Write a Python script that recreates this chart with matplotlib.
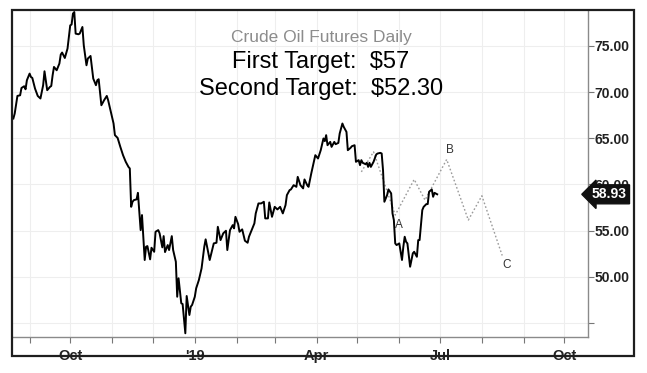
import numpy as np
import matplotlib
matplotlib.use("Agg")
import matplotlib.pyplot as plt
import matplotlib.dates as mdates
from matplotlib.ticker import FuncFormatter, FixedLocator
from matplotlib.patches import Rectangle
from matplotlib.transforms import blended_transform_factory

plt.rcParams["font.family"] = ["Liberation Sans", "DejaVu Sans"]

# ---------------------------------------------------------------------------
# Data: daily crude oil futures close
# day offsets are counted from 1 Oct 2018
# ---------------------------------------------------------------------------
base_date = np.datetime64("2018-10-01")

day_offset = [
    -42, -41, -39, -37, -36, -34, -33, -32, -30, -29,
    -28, -26, -24, -22, -20, -19, -17, -15, -14, -13,
    -12, -10, -8, -7, -6, -4, -2, -1, 0, 1,
    2, 3, 4, 6, 7, 9, 10, 12, 13, 15,
    17, 19, 20, 21, 23, 25, 27, 28, 30, 32,
    33, 35, 37, 39, 41, 43, 44, 45, 46, 47,
    49, 50, 52, 53, 55, 56, 57, 59, 60, 62,
    63, 65, 66, 68, 69, 70, 72, 73, 75, 76,
    78, 79, 80, 82, 83, 85, 86, 88, 89, 90,
    92, 93, 95, 97, 99, 100, 101, 103, 106, 108,
    109, 111, 113, 115, 116, 118, 120, 121, 122, 124,
    125, 127, 129, 131, 132, 134, 136, 137, 139, 141,
    143, 144, 146, 147, 149, 151, 153, 155, 157, 159,
    160, 162, 163, 165, 167, 168, 170, 172, 173, 175,
    176, 178, 181, 183, 185, 187, 188, 189, 190, 192,
    193, 195, 196, 198, 199, 201, 202, 204, 205, 207,
    208, 210, 211, 213, 214, 215, 216, 218, 219, 220,
    221, 222, 224, 226, 227, 229, 230, 231, 232, 234,
    235, 237, 238, 239, 240, 241, 243, 245, 246, 247,
    248, 249, 251, 253, 254, 256, 257, 258, 260, 261,
    263, 264, 265, 267, 268, 269, 271,
]

close = [
    67.14, 67.68, 69.59, 69.66, 70.45, 70.64, 70.31, 71.29, 72.01, 71.64,
    71.54, 70.39, 69.59, 69.31, 70.75, 72.26, 70.21, 70.56, 70.67, 71.83,
    72.73, 72.37, 73.10, 74.07, 74.29, 73.70, 74.72, 75.97, 77.24, 77.32,
    78.51, 78.68, 76.34, 76.27, 76.34, 77.06, 75.08, 72.91, 73.64, 73.92,
    71.47, 70.75, 71.29, 71.40, 68.58, 69.12, 69.59, 69.12, 67.86, 66.60,
    65.34, 65.04, 64.07, 63.17, 62.45, 61.90, 61.73, 57.57, 58.12, 58.30,
    58.38, 59.09, 55.05, 56.68, 51.81, 53.25, 53.32, 51.88, 53.14, 52.70,
    54.87, 55.05, 54.70, 53.18, 54.40, 52.67, 53.43, 52.89, 54.40, 52.89,
    51.62, 47.83, 49.83, 47.12, 47.04, 43.87, 47.91, 45.85, 46.75, 46.94,
    47.83, 48.74, 49.64, 50.91, 53.25, 54.05, 53.32, 51.81, 53.61, 53.68,
    55.41, 53.97, 54.70, 54.98, 52.89, 55.05, 55.59, 55.24, 56.49, 55.70,
    54.87, 55.13, 53.90, 53.68, 54.33, 55.05, 55.78, 56.86, 57.94, 57.94,
    58.12, 56.32, 56.32, 58.05, 56.49, 57.57, 57.29, 57.57, 56.86, 57.76,
    58.84, 59.38, 59.46, 59.92, 59.74, 60.82, 59.92, 59.57, 60.54, 59.92,
    59.74, 61.19, 63.17, 62.81, 63.71, 64.98, 64.69, 65.34, 64.25, 64.61,
    64.07, 64.61, 64.36, 64.50, 65.52, 66.60, 66.23, 65.69, 63.71, 63.96,
    64.14, 64.25, 62.45, 62.63, 62.09, 62.63, 62.34, 62.20, 62.34, 61.90,
    62.34, 61.90, 62.45, 63.25, 63.35, 63.42, 63.35, 61.55, 58.12, 58.84,
    59.46, 59.03, 56.86, 56.14, 53.61, 53.43, 53.61, 51.81, 53.25, 54.33,
    53.79, 53.61, 51.08, 52.53, 52.70, 52.16, 53.97, 53.97, 57.22, 57.57,
    57.87, 57.87, 59.20, 59.46, 58.66, 59.09, 58.93,
]

# projected wave path (dotted) and its labels
proj_day = [215, 224, 240, 254, 262, 278, 294, 304, 319]
proj_price = [61.36, 63.53, 56.68, 60.54, 58.30, 62.71, 56.14, 58.77, 52.30]
wave_labels = ["A", "B", "C"]
wave_index = [2, 5, 8]

title = "Crude Oil Futures Daily"
target_lines = ["First Target:  $57", "Second Target:  $52.30"]
y_ticks = [45, 50, 55, 60, 65, 70, 75]

assert len(day_offset) == len(close)

dates = base_date + np.array(day_offset).astype("timedelta64[D]")
proj_dates = base_date + np.array(proj_day).astype("timedelta64[D]")
last_price = close[-1]

# ---------------------------------------------------------------------------
# Figure (pixel based layout, 647 x 373)
# ---------------------------------------------------------------------------
W, H = 647, 373
fig = plt.figure(figsize=(W / 100, H / 100), dpi=100)
fig.patch.set_facecolor("white")

left, right, top, bottom = 12, 587.5, 10, 336.7
ax = fig.add_axes([left / W, 1 - bottom / H, (right - left) / W, (bottom - top) / H])

ax.plot(dates, close, color="black", lw=1.4, zorder=3)
ax.plot(proj_dates, proj_price, color="#9a9a9a", lw=1.0, ls=(0, (1.2, 1.6)), zorder=2)

for lab, i, off in zip(wave_labels, wave_index, [(2.5, -7), (2.5, 7), (3, -7)]):
    ax.annotate(lab, (proj_dates[i], proj_price[i]), xytext=off,
                textcoords="offset points", ha="center", va="center",
                fontsize=8.5, color="#333333", zorder=4)

ax.set_xlim(base_date - np.timedelta64(43, "D"), base_date + np.timedelta64(382, "D"))
ax.set_ylim(43.5, 78.9)

# x axis: every month gets a tick/grid, quarters get a label
ax.xaxis.set_major_locator(mdates.MonthLocator(bymonth=[1, 4, 7, 10]))
ax.xaxis.set_minor_locator(mdates.MonthLocator())


def month_label(v, pos):
    d = mdates.num2date(v)
    return d.strftime("'%y") if d.month == 1 else d.strftime("%b")


ax.xaxis.set_major_formatter(FuncFormatter(month_label))
ax.tick_params(axis="x", which="both", direction="out", length=4, width=0.8,
               color="#777777", labelsize=10.5, pad=5, labelcolor="#222222")
for t in ax.get_xticklabels():
    t.set_fontweight("bold")

# y axis on the right
ax.yaxis.tick_right()
ax.yaxis.set_major_locator(FixedLocator(y_ticks))
ax.yaxis.set_major_formatter(FuncFormatter(lambda v, p: "" if v < 50 else f"{v:.2f}"))
ax.tick_params(axis="y", direction="out", length=4, width=0.8, color="#777777",
               labelsize=10, pad=1, labelcolor="#222222")
for t in ax.get_yticklabels():
    t.set_fontweight("bold")

ax.grid(True, which="both", axis="x", color="#eeeeee", lw=0.8)
ax.grid(True, which="major", axis="y", color="#eeeeee", lw=0.8)
ax.set_axisbelow(True)

for s in ["left", "top"]:
    ax.spines[s].set_visible(False)
for s in ["right", "bottom"]:
    ax.spines[s].set_color("#8a8a8a")
    ax.spines[s].set_linewidth(1.0)

# last price tag
tr = blended_transform_factory(ax.transAxes, ax.transData)
ax.text(1.0 + 4.5 / (right - left), last_price, f"{last_price:.2f}", transform=tr,
        ha="left", va="center", fontsize=10, fontweight="bold", color="white",
        clip_on=False, zorder=10,
        bbox=dict(boxstyle="larrow,pad=0.18", fc="#111111", ec="#111111"))

# outer frame of the chart
fig.patches.append(Rectangle((11.5 / W, 1 - 356 / H), (634 - 11.5) / W, (356 - 10) / H,
                             transform=fig.transFigure, fill=False,
                             ec="#1e1e1e", lw=1.6, zorder=20))

# headline text
cx = 321 / W
fig.text(cx, 1 - 41.7 / H, title, ha="center", va="baseline",
         fontsize=12.5, color="#8c8c8c")
fig.text(cx, 1 - 68.3 / H, target_lines[0], ha="center", va="baseline",
         fontsize=17, color="black")
fig.text(cx, 1 - 94.5 / H, target_lines[1], ha="center", va="baseline",
         fontsize=17, color="black")

fig.savefig("out.png", dpi=100, facecolor="white")
